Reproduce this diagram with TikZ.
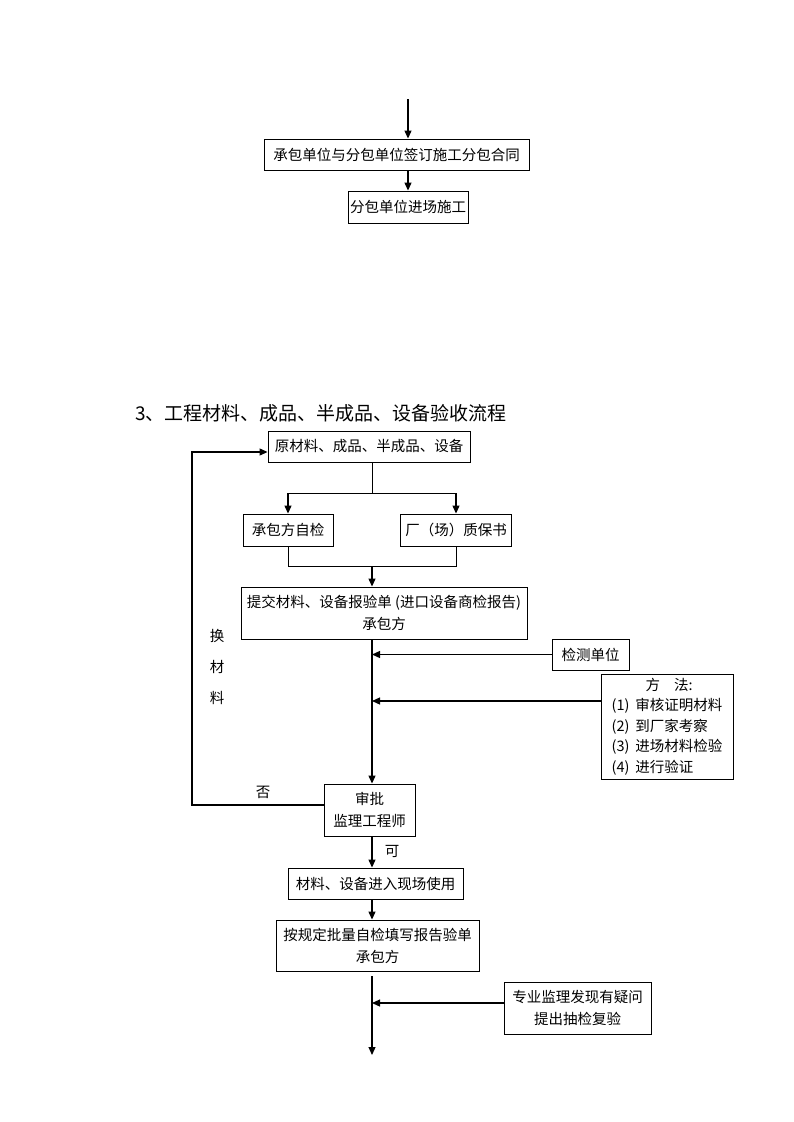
\documentclass[tikz,border=0pt]{standalone}
\usepackage{fontspec}
\setmainfont{Noto Sans CJK SC}
\usetikzlibrary{arrows.meta}
\tikzstyle{box}=[draw,line width=0.9pt,inner sep=0pt,align=center,
    font=\fontsize{14.5}{22}\selectfont]
\tikzstyle{word}=[inner sep=0pt,font=\fontsize{14.5}{22}\selectfont]
\tikzstyle{flow}=[line width=1.2pt,-{Triangle[width=7pt,length=8pt]}]
\tikzstyle{link}=[line width=1pt]

\begin{document}
\begin{tikzpicture}[x=1pt,y=-1pt]

    \useasboundingbox (0,0) rectangle (793,1122);

    % end of the previous chart
    \node[box,minimum width=265pt,minimum height=31pt] (sign)  at (396.5,154.5) {承包单位与分包单位签订施工分包合同};
    \node[box,minimum width=120pt,minimum height=32pt] (enter) at (408,207)     {分包单位进场施工};

    \coordinate (start) at (408,99);
    \draw[flow] (start) -- (start |- sign.north);
    \draw[flow] (sign.south -| enter) -- (enter.north);

    % materials chart
    \node[anchor=west,inner sep=0pt,font=\fontsize{19}{24}\selectfont] (title) at (135,413)
        {3、工程材料、成品、半成品、设备验收流程};

    \node[box,minimum width=202pt,minimum height=31pt] (raw)     at (369,446.5)   {原材料、成品、半成品、设备};
    \node[box,minimum width=90pt, minimum height=32pt] (self)    at (288,530)     {承包方自检};
    \node[box,minimum width=111pt,minimum height=32pt] (cert)    at (456,530)     {厂（场）质保书};
    \node[box,minimum width=286pt,minimum height=52pt] (submit)  at (384,613)     {提交材料、设备报验单 (进口设备商检报告)\\承包方};
    \node[box,minimum width=77pt, minimum height=31pt] (test)    at (590.5,654.5) {检测单位};
    \node[box,minimum width=132pt,minimum height=105pt,align=left,
          font=\fontsize{14.5}{20.5}\selectfont]       (method)  at (667,726.5)
        {\hspace*{34pt}方\hspace{14pt}法:\\(1)\,\ 审核证明材料\\(2)\,\ 到厂家考察\\(3)\,\ 进场材料检验\\(4)\,\ 进行验证};
    \node[box,minimum width=91pt, minimum height=52pt] (approve) at (369.5,810)   {审批\\监理工程师};
    \node[box,minimum width=175pt,minimum height=31pt] (use)     at (375.5,883.5) {材料、设备进入现场使用};
    \node[box,minimum width=203pt,minimum height=51pt] (fill)    at (377.5,945.5) {按规定批量自检填写报告验单\\承包方};
    \node[box,minimum width=147pt,minimum height=52pt] (expert)  at (577.5,1008)  {专业监理发现有疑问\\提出抽检复验};

    \node[word,align=center,font=\fontsize{14.5}{31}\selectfont] (change) at (217,667) {换\\材\\料};
    \node[word] (no)  at (263,792) {否};
    \node[word] (yes) at (392,851) {可};

    \coordinate (spine) at (372,0);
    \coordinate (fork)  at (372,493);
    \coordinate (join)  at (372,566.5);
    \coordinate (loop)  at (192,0);
    \coordinate (ask)   at ([yshift=25.5pt]method.west);
    \coordinate (back)  at ([yshift=5pt]approve.west);
    \coordinate (again) at ([yshift=-5.5pt]raw.west);
    \coordinate (doubt) at ([yshift=5pt]expert.west);
    \coordinate (gap)   at (372,976);
    \coordinate (tail)  at (372,1055);

    \draw[link] (raw.south -| spine) -- (fork);
    \draw[link] (fork -| self) -- (fork -| cert);
    \draw[flow] (fork -| self) -- (self.north);
    \draw[flow] (fork -| cert) -- (cert.north);
    \draw[link] (self.south) -- (self.south |- join) -- (cert.south |- join) -- (cert.south);
    \draw[flow] (join) -- (join |- submit.north);

    \draw[flow] (submit.south -| spine) -- (approve.north -| spine);
    \draw[flow] (test.west) -- (test.west -| spine);
    \draw[flow] (ask) -- (ask -| spine);

    \draw[flow] (back) -| (loop |- again) -- (again);

    \draw[flow] (approve.south -| spine) -- (use.north -| spine);
    \draw[flow] (use.south -| spine) -- (fill.north -| spine);
    \draw[flow] (gap) -- (tail);
    \draw[flow] (doubt) -- (doubt -| spine);

\end{tikzpicture}
\end{document}
